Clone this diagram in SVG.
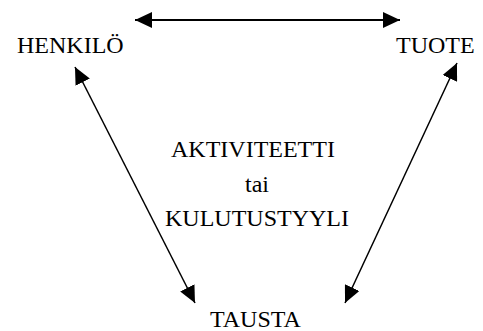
<svg xmlns="http://www.w3.org/2000/svg" width="483" height="331" viewBox="0 0 483 331">
<defs>
<marker id="ah" markerUnits="userSpaceOnUse" markerWidth="18" markerHeight="16" refX="17" refY="8" orient="auto-start-reverse" viewBox="0 0 18 16">
<path d="M0,0 L17,8 L0,16 z" fill="#000"/>
</marker>
</defs>
<rect width="483" height="331" fill="#fff"/>
<g id="connectors" stroke="#000" fill="none" marker-start="url(#ah)" marker-end="url(#ah)">
<line x1="135" y1="20" x2="400" y2="20" stroke-width="2"/>
<line x1="75" y1="67" x2="195" y2="303" stroke-width="1.5"/>
<line x1="457" y1="63" x2="345" y2="303" stroke-width="1.5"/>
</g>
<g id="henkilo"><text x="17" y="53" style="font-family:'Liberation Serif',serif;font-size:24px">HENKILÖ</text></g>
<g id="tuote"><text x="396" y="53" style="font-family:'Liberation Serif',serif;font-size:24px">TUOTE</text></g>
<g id="aktiviteetti"><text x="171" y="157" style="font-family:'Liberation Serif',serif;font-size:24px">AKTIVITEETTI</text><text x="245" y="192" style="font-family:'Liberation Serif',serif;font-size:24px">tai</text><text x="165" y="226" style="font-family:'Liberation Serif',serif;font-size:24px">KULUTUSTYYLI</text></g>
<g id="tausta"><text x="210" y="327" style="font-family:'Liberation Serif',serif;font-size:24px">TAUSTA</text></g>
</svg>
